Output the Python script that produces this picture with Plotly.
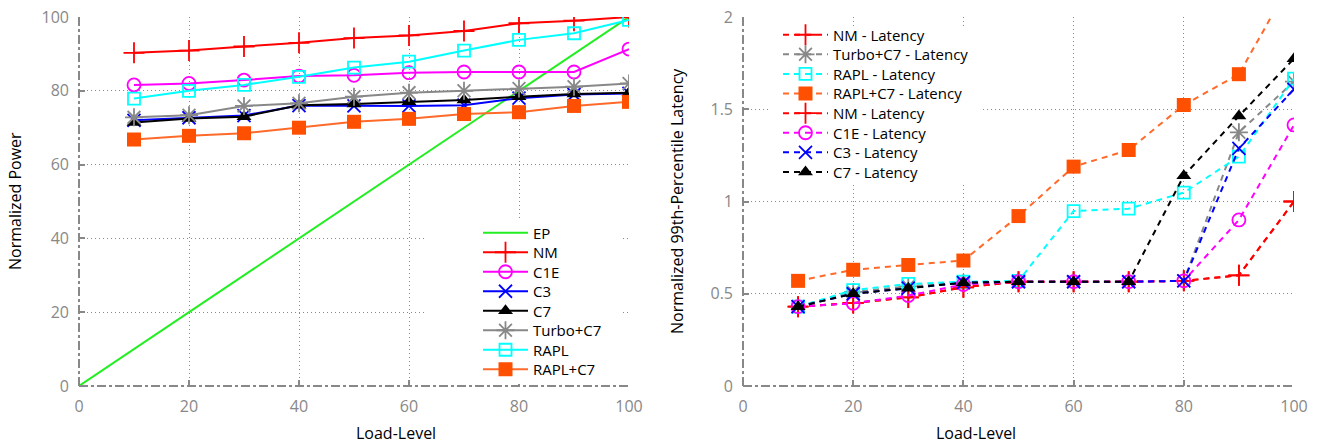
import plotly.graph_objects as go

# ---------------- data ----------------
load = [10, 20, 30, 40, 50, 60, 70, 80, 90, 100]
ep_x = [0, 100]
ep_y = [0, 100]

pw_nm = [90.3, 90.9, 92.0, 93.0, 94.3, 95.0, 96.2, 98.3, 99.0, 100.0]
pw_c1e = [81.6, 82.0, 82.9, 84.0, 84.2, 84.9, 85.1, 85.1, 85.1, 91.3]
pw_c3 = [72.0, 72.7, 73.3, 76.0, 75.9, 75.9, 76.1, 78.0, 79.0, 79.3]
pw_c7 = [71.4, 72.5, 73.0, 76.1, 76.4, 77.0, 77.5, 78.4, 79.1, 79.5]
pw_turbo = [72.8, 73.4, 75.9, 76.6, 78.4, 79.5, 80.0, 80.6, 81.1, 82.0]
pw_rapl = [77.9, 80.0, 81.6, 83.8, 86.3, 87.9, 90.9, 93.8, 95.6, 99.2]
pw_raplc7 = [66.8, 67.8, 68.5, 70.0, 71.6, 72.4, 73.7, 74.2, 75.9, 77.0]

lat_nm = [0.43, 0.45, 0.48, 0.535, 0.565, 0.565, 0.565, 0.57, 0.60, 1.0]
lat_turbo = [0.43, 0.51, 0.54, 0.56, 0.565, 0.565, 0.565, 0.57, 1.375, 1.65]
lat_rapl = [0.43, 0.52, 0.553, 0.565, 0.57, 0.948, 0.961, 1.048, 1.243, 1.666]
lat_raplc7 = [0.57, 0.63, 0.656, 0.68, 0.921, 1.189, 1.279, 1.523, 1.69, 2.22]
lat_c1e = [0.43, 0.448, 0.49, 0.55, 0.565, 0.565, 0.565, 0.57, 0.90, 1.415]
lat_c3 = [0.43, 0.50, 0.53, 0.56, 0.565, 0.565, 0.565, 0.57, 1.288, 1.608]
lat_c7 = [0.43, 0.50, 0.53, 0.56, 0.565, 0.565, 0.565, 1.14, 1.463, 1.774]

x_ticks = [0, 20, 40, 60, 80, 100]
pw_ticks = [0, 20, 40, 60, 80, 100]
lat_ticks = [0, 0.5, 1, 1.5, 2]
lat_ticklabels = ["0", "0.5", "1", "1.5", "2"]

# ---------------- styles ----------------
RED = "#ff0000"
MAG = "#ff00ff"
BLUE = "#0000ff"
BLACK = "#000000"
GRAY = "#888888"
CYAN = "#00ffff"
ORANGE = "#ff4f00"
ORANGE_LINE = "#ff6a2a"
GREEN = "#22ee22"
FONT = "Open Sans"
LEG_FONT = 15

W, H = 1322, 446
ML, MR, MT, MB = 0, 0, 17, 60
pw = W - ML - MR
ph = H - MT - MB


def px_x(p):
    return (p - ML) / pw


def px_y(p):
    return (H - MB - p) / ph


fig = go.Figure()


def mk(symbol, color, size, filled=False):
    if filled:
        return dict(symbol=symbol, color=color, size=size, line=dict(width=0, color=color))
    return dict(symbol=symbol, color=color, size=size, line=dict(width=1.8, color=color))


legend_layouts = {}
leg_idx = [0]


def next_legend(x_left, y_center):
    leg_idx[0] += 1
    key = "legend" if leg_idx[0] == 1 else f"legend{leg_idx[0]}"
    legend_layouts[key] = dict(
        x=px_x(x_left), y=px_y(y_center), xanchor="left", yanchor="middle",
        bgcolor="rgba(0,0,0,0)", borderwidth=0, itemwidth=45,
        font=dict(family=FONT, size=LEG_FONT, color="black"))
    return key


# left panel
left_rows = [233 + 19.5 * i for i in range(8)]
LEFT_LEG_X = 478
fig.add_trace(go.Scatter(x=ep_x, y=ep_y, mode="lines", name="EP",
                         line=dict(color=GREEN, width=2), xaxis="x", yaxis="y",
                         legend=next_legend(LEFT_LEG_X, left_rows[0])))
left = [
    ("NM", pw_nm, RED, "cross-thin-open", 15, False),
    ("C1E", pw_c1e, MAG, "circle-open", 13, False),
    ("C3", pw_c3, BLUE, "x-thin-open", 13, False),
    ("C7", pw_c7, BLACK, "triangle-up", 13, True),
    ("Turbo+C7", pw_turbo, GRAY, "asterisk-open", 15, False),
    ("RAPL", pw_rapl, CYAN, "square-open", 12, False),
    ("RAPL+C7", pw_raplc7, ORANGE, "square", 14, True),
]
for i, (name, ys, col, sym, sz, filled) in enumerate(left):
    fig.add_trace(go.Scatter(x=load, y=ys, mode="lines+markers", name=name,
                             line=dict(color=ORANGE_LINE if name == "RAPL+C7" else col, width=2),
                             marker=mk(sym, col, sz, filled), xaxis="x", yaxis="y",
                             legend=next_legend(LEFT_LEG_X, left_rows[i + 1])))

# right panel
right_rows = [35 + 19.6 * i for i in range(8)]
RIGHT_LEG_X = 778
right = [
    ("NM - Latency", lat_nm, RED, "cross-thin-open", 15, False),
    ("Turbo+C7 - Latency", lat_turbo, GRAY, "asterisk-open", 15, False),
    ("RAPL - Latency", lat_rapl, CYAN, "square-open", 12, False),
    ("RAPL+C7 - Latency", lat_raplc7, ORANGE, "square", 14, True),
    ("NM - Latency", lat_nm, RED, "cross-thin-open", 15, False),
    ("C1E - Latency", lat_c1e, MAG, "circle-open", 13, False),
    ("C3 - Latency", lat_c3, BLUE, "x-thin-open", 13, False),
    ("C7 - Latency", lat_c7, BLACK, "triangle-up", 13, True),
]
for i, (name, ys, col, sym, sz, filled) in enumerate(right):
    fig.add_trace(go.Scatter(x=load, y=ys, mode="lines+markers", name=name,
                             line=dict(color=ORANGE_LINE if "RAPL+C7" in name else col,
                                       width=2, dash="6px,5px"),
                             marker=mk(sym, col, sz, filled), xaxis="x2", yaxis="y2",
                             legend=next_legend(RIGHT_LEG_X, right_rows[i])))

ax_common = dict(
    showgrid=True, gridcolor="#8a8a8a", griddash="1px,3px", gridwidth=1,
    zeroline=False, showline=False,
    ticks="inside", ticklen=6, tickwidth=2, tickcolor="#888888",
    tickfont=dict(family=FONT, size=16, color="#888888"),
)

fig.update_layout(
    width=W, height=H,
    margin=dict(l=ML, r=MR, t=MT, b=MB, autoexpand=False),
    paper_bgcolor="white", plot_bgcolor="white",
    showlegend=True,
    font=dict(family=FONT, size=16, color="black"),
    xaxis=dict(domain=[px_x(79), px_x(629)], range=[0, 100], tickvals=x_ticks,
               anchor="y", ticklabelstandoff=9, **ax_common),
    yaxis=dict(domain=[0, 1], range=[0, 100], tickvals=pw_ticks,
               anchor="x", ticklabelstandoff=9, **ax_common),
    xaxis2=dict(domain=[px_x(743), px_x(1294)], range=[0, 100], tickvals=x_ticks,
                anchor="y2", ticklabelstandoff=9, **ax_common),
    yaxis2=dict(domain=[0, 1], range=[0, 2], tickvals=lat_ticks, ticktext=lat_ticklabels,
                anchor="x2", ticklabelstandoff=9, **ax_common),
    **legend_layouts,
)

# white legend background boxes (mask the grid like gnuplot's opaque key)
fig.add_shape(type="rect", xref="paper", yref="paper",
              x0=px_x(427), x1=px_x(620), y0=px_y(384), y1=px_y(218),
              line=dict(width=0), fillcolor="white", layer="above")
fig.add_shape(type="rect", xref="paper", yref="paper",
              x0=px_x(768), x1=px_x(980), y0=px_y(182), y1=px_y(26),
              line=dict(width=0), fillcolor="white", layer="above")

# dash-dot border lines (left and bottom) for each panel
for xr, yr in (("x", "y"), ("x2", "y2")):
    fig.add_shape(type="line", xref=f"{xr} domain", yref=f"{yr} domain",
                  x0=0, x1=0, y0=0, y1=1, line=dict(color="#888888", width=2, dash="dashdot"))
    fig.add_shape(type="line", xref=f"{xr} domain", yref=f"{yr} domain",
                  x0=0, x1=1, y0=0, y1=0, line=dict(color="#888888", width=2, dash="dashdot"))

# axis titles
fig.add_annotation(text="Load-Level", xref="paper", yref="paper",
                   x=px_x(354), y=px_y(446), yanchor="bottom", showarrow=False,
                   font=dict(family=FONT, size=16, color="black"))
fig.add_annotation(text="Load-Level", xref="paper", yref="paper",
                   x=px_x(1018), y=px_y(446), yanchor="bottom", showarrow=False,
                   font=dict(family=FONT, size=16, color="black"))
fig.add_annotation(text="Normalized Power", xref="paper", yref="paper",
                   x=px_x(2), y=px_y(201), showarrow=False, textangle=-90,
                   font=dict(family=FONT, size=16, color="black"))
fig.add_annotation(text="Normalized 99th-Percentile Latency", xref="paper", yref="paper",
                   x=px_x(677), y=px_y(201), showarrow=False, textangle=-90,
                   font=dict(family=FONT, size=16, color="black"))

fig.write_html("out.html", config={"displayModeBar": False},
               post_script="document.body.style.margin='0px';")
